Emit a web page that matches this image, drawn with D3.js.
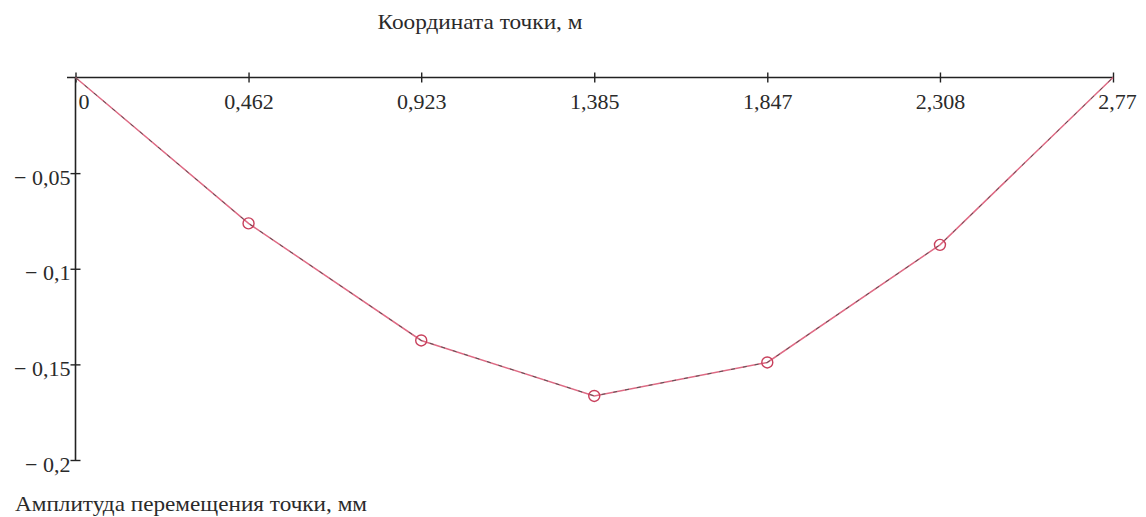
<!DOCTYPE html>
<html><head><meta charset="utf-8">
<script src="https://cdn.jsdelivr.net/npm/d3@7"></script>
<style>
html,body{margin:0;padding:0;background:#fff;}
svg{display:block;}
text{font-family:"Liberation Serif","Times New Roman",serif;fill:#2a2a2a;}
</style></head>
<body>
<svg id="chart" width="1146" height="517"></svg>
<script>
const xValues = [0, 0.462, 0.923, 1.385, 1.847, 2.308, 2.77];
const yValues = [0, -0.0763, -0.1375, -0.1665, -0.1490, -0.0875, 0];
const xTickValues = [0, 0.462, 0.923, 1.385, 1.847, 2.308, 2.77];
const xTickLabels = ["0", "0,462", "0,923", "1,385", "1,847", "2,308", "2,77"];
const yTickValues = [-0.05, -0.1, -0.15, -0.2];
const yTickLabels = ["\u2212 0,05", "\u2212 0,1", "\u2212 0,15", "\u2212 0,2"];
const xTitle = "Координата точки, м";
const yTitle = "Амплитуда перемещения точки, мм";

const svg = d3.select("#chart");
const x = d3.scaleLinear().domain([0, 2.77]).range([75.5, 1113]);
const y = d3.scaleLinear().domain([0, -0.2]).range([77.5, 460]);

// X axis (top)
const xAxis = d3.axisBottom(x).tickValues(xTickValues)
  .tickSize(0).tickPadding(0)
  .tickFormat((d, i) => xTickLabels[i]);
const gx = svg.append("g").attr("transform", `translate(0,${y(0)})`).call(xAxis);
gx.select(".domain").remove();
gx.append("line").attr("x1", 67).attr("x2", x(2.77)).attr("y1", 0).attr("y2", 0)
  .attr("stroke", "#222").attr("stroke-width", 1.6);
gx.selectAll(".tick").append("line").attr("y1", -5).attr("y2", 5)
  .attr("stroke", "#222").attr("stroke-width", 1.4);
gx.selectAll(".tick text").attr("font-size", 22).attr("y", 31).attr("dy", 0)
  .attr("dx", (d, i) => i === 0 ? 8 : (i === xTickValues.length - 1 ? 4 : 0))
  .style("font-family", '"Liberation Serif", serif').attr("fill", "#2a2a2a");

// Y axis (left)
const yAxis = d3.axisLeft(y).tickValues(yTickValues)
  .tickSize(0).tickPadding(0)
  .tickFormat((d, i) => yTickLabels[i]);
const gy = svg.append("g").attr("transform", `translate(${x(0)},0)`).call(yAxis);
gy.select(".domain").remove();
gy.append("line").attr("x1", 0).attr("x2", 0).attr("y1", y(0)).attr("y2", y(-0.2))
  .attr("stroke", "#222").attr("stroke-width", 1.6);
gy.selectAll(".tick").append("line").attr("x1", -5).attr("x2", 5)
  .attr("stroke", "#222").attr("stroke-width", 1.4);
gy.selectAll(".tick text").attr("font-size", 22).attr("x", -5).attr("dy", "0.5em")
  .style("font-family", '"Liberation Serif", serif').attr("fill", "#2a2a2a");

// Titles
svg.append("text").attr("x", 480).attr("y", 29).attr("text-anchor", "middle")
  .attr("font-size", 22).attr("textLength", 205).attr("lengthAdjust", "spacingAndGlyphs").text(xTitle);
svg.append("text").attr("x", 15).attr("y", 511).attr("text-anchor", "start")
  .attr("font-size", 22).attr("textLength", 352).attr("lengthAdjust", "spacingAndGlyphs").text(yTitle);

// Data line
const data = xValues.map((v, i) => ({ x: v, y: yValues[i] }));
const line = d3.line().x(d => x(d.x)).y(d => y(d.y));
svg.append("path").datum(data).attr("d", line).attr("fill", "none")
  .attr("stroke", "#de6a84").attr("stroke-width", 1.5);
svg.append("path").datum(data).attr("d", line).attr("fill", "none")
  .attr("stroke", "#555").attr("stroke-width", 1).attr("stroke-dasharray", "4,8");

// Markers
svg.selectAll("circle.pt").data(data.slice(1, -1)).join("circle")
  .attr("class", "pt").attr("cx", d => x(d.x)).attr("cy", d => y(d.y)).attr("r", 5.5)
  .attr("fill", "none").attr("stroke", "#c8405c").attr("stroke-width", 1.4);
</script>
</body></html>
